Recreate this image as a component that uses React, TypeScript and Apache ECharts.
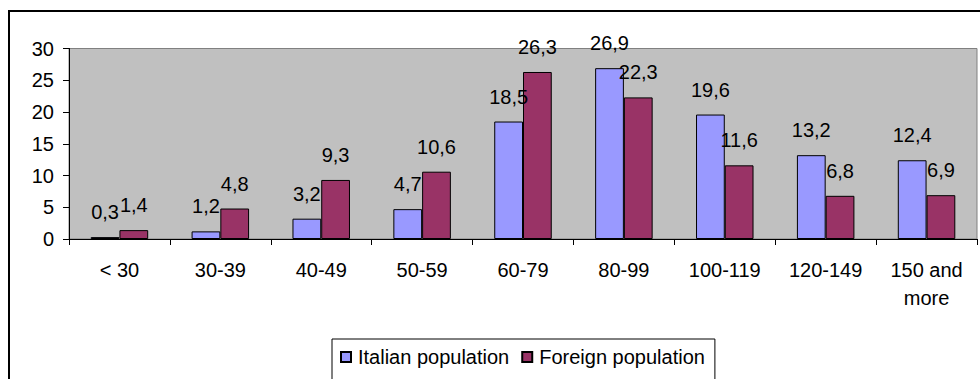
import React, { useEffect, useRef } from "react";
import * as echarts from "echarts";

const categories = ["< 30", "30-39", "40-49", "50-59", "60-79", "80-99", "100-119", "120-149", "150 and\nmore"];
const italianPopulation = [0.3, 1.2, 3.2, 4.7, 18.5, 26.9, 19.6, 13.2, 12.4];
const foreignPopulation = [1.4, 4.8, 9.3, 10.6, 26.3, 22.3, 11.6, 6.8, 6.9];
const yTicks = { min: 0, max: 30, interval: 5 };

const FONT = "'Liberation Sans', Arial, sans-serif";
const FS = 20;

export default function App() {
  const ref = useRef<HTMLDivElement>(null);
  useEffect(() => {
    document.body.style.margin = "0";
    if (!ref.current) return;
    const chart = echarts.init(ref.current, undefined, { renderer: "svg" });
    const label = {
      show: true,
      position: "top" as const,
      distance: 15,
      color: "#000",
      fontFamily: FONT,
      fontSize: FS,
      formatter: (p: any) => String(p.value).replace(".", ","),
    };
    chart.setOption({
      animation: false,
      backgroundColor: "#fff",
      textStyle: { fontFamily: FONT },
      graphic: [
        {
          type: "rect",
          shape: { x: 9, y: 11, width: 1000, height: 400 },
          style: { fill: "none", stroke: "#000", lineWidth: 2 },
          silent: true,
          z: 100,
        },
      ],
      grid: {
        left: 69,
        right: 3,
        top: 48.5,
        bottom: 140,
        show: true,
        backgroundColor: "#C0C0C0",
        borderColor: "#808080",
        borderWidth: 1,
      },
      legend: {
        left: 332,
        top: 339,
        orient: "horizontal",
        itemWidth: 10,
        itemHeight: 10,
        itemGap: 12,
        padding: [8, 10, 14, 8],
        borderColor: "#000",
        borderWidth: 1,
        backgroundColor: "#fff",
        icon: "rect",
        textStyle: { color: "#000", fontFamily: FONT, fontSize: FS, padding: [0, 0, 0, 2] },
        data: ["Italian population", "Foreign population"],
      },
      xAxis: {
        type: "category",
        data: categories,
        axisLine: { show: true, lineStyle: { color: "#000", width: 1 } },
        axisTick: { show: true, length: 6, lineStyle: { color: "#000" } },
        axisLabel: {
          interval: 0,
          margin: 17,
          color: "#000",
          fontFamily: FONT,
          fontSize: FS,
          lineHeight: 28,
        },
        splitLine: { show: false },
      },
      yAxis: {
        type: "value",
        min: yTicks.min,
        max: yTicks.max,
        interval: yTicks.interval,
        axisLine: { show: true, lineStyle: { color: "#000", width: 1 } },
        axisTick: { show: true, length: 6, lineStyle: { color: "#000" } },
        axisLabel: { margin: 15, color: "#000", fontFamily: FONT, fontSize: FS },
        splitLine: { show: false },
      },
      series: [
        {
          name: "Italian population",
          type: "bar",
          data: italianPopulation,
          barGap: "0%",
          barCategoryGap: "43%",
          itemStyle: { color: "#9999FF", borderColor: "#000", borderWidth: 1 },
          label,
        },
        {
          name: "Foreign population",
          type: "bar",
          data: foreignPopulation,
          barGap: "0%",
          barCategoryGap: "43%",
          itemStyle: { color: "#993366", borderColor: "#000", borderWidth: 1 },
          label,
        },
      ],
    });
    return () => chart.dispose();
  }, []);
  return <div ref={ref} style={{ width: 980, height: 379 }} />;
}
